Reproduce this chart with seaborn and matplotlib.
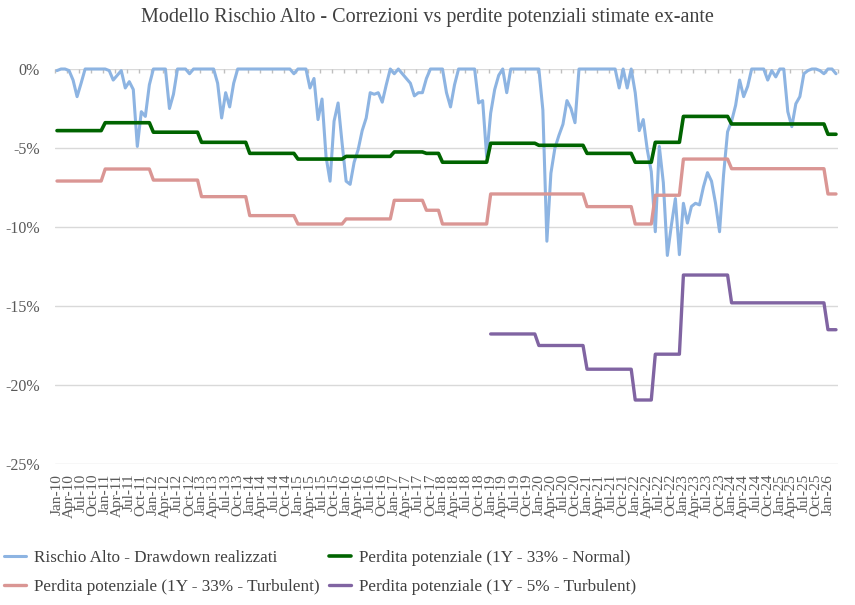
import numpy as np
import pandas as pd
import matplotlib
matplotlib.use("Agg")
import matplotlib.pyplot as plt
import seaborn as sns

# monthly drawdown of the "Rischio Alto" model, Jan-2010 .. Mar-2026 (%)
drawdown = [
    -0.1, 0, 0, -0.1, -0.7, -1.75, -0.9, 0, 0, 0, 0, 0,            # 2010
    0, -0.1, -0.7, -0.4, -0.1, -1.2, -0.8, -1.3, -4.9, -2.7, -3.0, -1.0,  # 2011
    0, 0, 0, 0, -2.5, -1.6, 0, 0, 0, -0.3, 0, 0,                  # 2012
    0, 0, 0, 0, -0.9, -3.1, -1.5, -2.4, -0.9, 0, 0, 0,            # 2013
    0, 0, 0, 0, 0, 0, 0, 0, 0, 0, 0, -0.3,                        # 2014
    0, 0, 0, -1.2, -0.6, -3.2, -1.9, -5.55, -7.1, -3.3, -2.15, -4.7,  # 2015
    -7.1, -7.3, -5.9, -5.1, -3.9, -3.1, -1.5, -1.6, -1.5, -2.1, -1.0, 0,  # 2016
    -0.3, 0, -0.3, -0.6, -0.9, -1.7, -1.5, -1.5, -0.6, 0, 0, 0,   # 2017
    0, -1.5, -2.4, -1.0, 0, 0, 0, 0, 0, -2.15, -2.0, -5.55,       # 2018
    -2.8, -1.3, -0.4, 0, -1.5, 0, 0, 0, 0, 0, 0, 0,               # 2019
    0, -2.6, -10.9, -6.6, -5.0, -4.2, -3.5, -2.0, -2.5, -3.4, 0, 0,  # 2020
    0, 0, 0, 0, 0, 0, 0, 0, -1.2, 0, -1.2, 0,                     # 2021
    -1.5, -3.9, -3.2, -5.1, -6.5, -10.3, -4.9, -7.2, -11.8, -9.9, -8.2, -11.75,  # 2022
    -8.5, -9.75, -8.7, -8.5, -8.6, -7.45, -6.56, -7.1, -8.5, -10.3, -6.7, -3.97,  # 2023
    -3.3, -2.3, -0.7, -1.75, -1.1, 0, 0, 0, 0, -0.7, -0.1, -0.5,  # 2024
    0, 0, -2.7, -3.65, -2.2, -1.75, -0.3, -0.1, 0, 0, -0.1, -0.3,  # 2025
    0, 0, -0.3,                                                   # 2026
]

# step series: month index where each level starts, and the level (%)
normal_start = [0, 12, 24, 36, 48, 60, 72, 84, 92, 96, 108, 120, 132, 144, 149, 156, 168, 192]
normal_level = [-3.9, -3.4, -4.0, -4.64, -5.34, -5.7, -5.53, -5.25, -5.34, -5.9,
                -4.7, -4.83, -5.34, -5.9, -4.64, -3.0, -3.48, -4.13]

turb33_start = [0, 12, 24, 36, 48, 60, 72, 84, 92, 96, 108, 132, 144, 149, 156, 168, 192]
turb33_level = [-7.09, -6.33, -7.03, -8.08, -9.28, -9.81, -9.49, -8.31, -8.94, -9.81,
                -7.91, -8.71, -9.81, -7.99, -5.7, -6.31, -7.91]

turb5_start = [108, 120, 132, 144, 149, 156, 168, 192]
turb5_level = [-16.77, -17.5, -19.0, -20.95, -18.05, -13.04, -14.8, -16.5]

labels = [
    "Rischio Alto - Drawdown realizzati",
    "Perdita potenziale (1Y - 33% - Normal)",
    "Perdita potenziale (1Y - 33% - Turbulent)",
    "Perdita potenziale (1Y - 5% - Turbulent)",
]
colors = ["#8DB4E2", "#006400", "#DA9694", "#8064A2"]

n = len(drawdown)
dates = pd.date_range("2010-01-01", periods=n, freq="MS")


def steps(starts, levels):
    out = np.full(n, np.nan)
    bounds = starts + [n]
    for i, lev in enumerate(levels):
        out[bounds[i]:bounds[i + 1]] = lev
    return out


df = pd.DataFrame({
    "idx": np.arange(n),
    "dd": drawdown,
    "normal": steps(normal_start, normal_level),
    "turb33": steps(turb33_start, turb33_level),
    "turb5": steps(turb5_start, turb5_level),
})

sns.set_theme(style="white")
plt.rcParams["font.family"] = ["Liberation Serif", "DejaVu Serif"]

fig = plt.figure(figsize=(8.55, 6.05), dpi=100)
ax = fig.add_axes([55 / 855, 1 - 464 / 605, 783 / 855, 395 / 605])

handles = []
for col, lab, c, lw in zip(["dd", "normal", "turb33", "turb5"], labels, colors, [2.2, 2.6, 2.4, 2.4]):
    sns.lineplot(data=df, x="idx", y=col, color=c, linewidth=lw, label=lab, ax=ax,
                 legend=False, clip_on=False)
    handles.append(ax.lines[-1])

ax.set_xlim(-0.5, n - 0.5)
ax.set_ylim(-25, 0)
ax.set_yticks([0, -5, -10, -15, -20, -25])
ax.set_yticklabels([f"{v}%" for v in [0, -5, -10, -15, -20, -25]])
ax.grid(axis="y", color="#D9D9D9", linewidth=1.0)
ax.set_axisbelow(True)
for s in ax.spines.values():
    s.set_visible(False)

tick_pos = np.arange(0, n, 3)
ax.set_xticks(tick_pos)
ax.set_xticklabels([d.strftime("%b-%y") for d in dates[tick_pos]], rotation=90,
                   va="top", ha="center")
ax.tick_params(axis="x", length=0, pad=7, labelsize=11, colors="#595959")
ax.tick_params(axis="y", length=0, pad=11, labelsize=11.5, colors="#595959")
ax.set_xlabel("")
ax.set_ylabel("")

# small tick marks on the 0% line, between categories
edges = np.append(tick_pos - 0.5, n - 0.5)
ax.vlines(edges, -0.28, 0, color="#BFBFBF", linewidth=1.0, clip_on=False, zorder=1)

fig.suptitle("Modello Rischio Alto - Correzioni vs perdite potenziali stimate ex-ante",
             x=0.5, y=1 - 8 / 605, va="top", fontsize=14.5, color="#404040")

order = [0, 2, 1, 3]
fig.legend([handles[i] for i in order], [labels[i] for i in order], ncol=2,
           loc="upper left", bbox_to_anchor=(4 / 855, 1 - 550 / 605), frameon=False,
           fontsize=12.3, handlelength=1.3, handletextpad=0.45, columnspacing=0.55,
           labelspacing=0.75, borderaxespad=0, borderpad=0, labelcolor="#404040")

fig.savefig("out.png", dpi=100)
